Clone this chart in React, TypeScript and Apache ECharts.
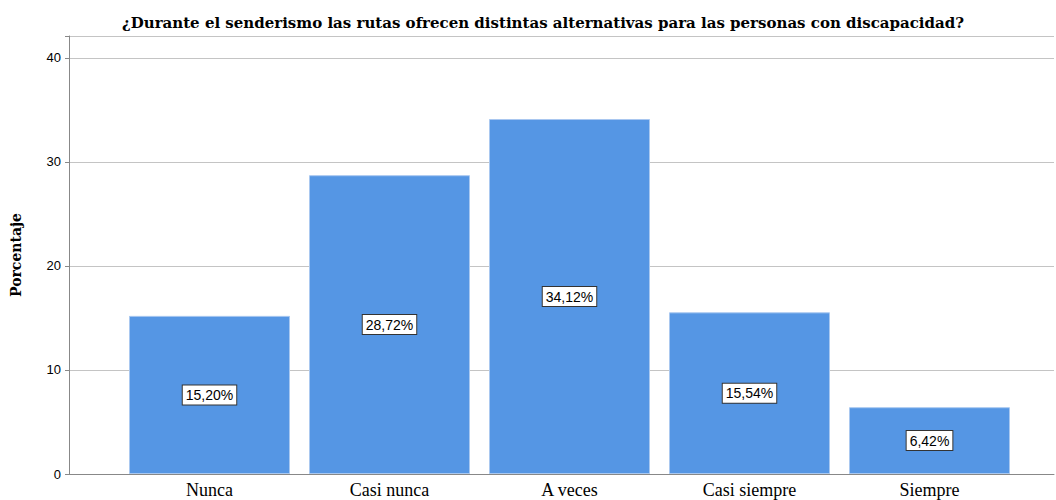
import React, { useEffect, useRef } from "react";
import * as echarts from "echarts";

const categories = ["Nunca", "Casi nunca", "A veces", "Casi siempre", "Siempre"];
const values = [15.2, 28.72, 34.12, 15.54, 6.42];
const yTicks = [0, 10, 20, 30, 40];
const title = "¿Durante el senderismo las rutas ofrecen distintas alternativas para las personas con discapacidad?";
const yName = "Porcentaje";

export default function App() {
  const ref = useRef<HTMLDivElement>(null);
  useEffect(() => {
    if (!ref.current) return;
    const chart = echarts.init(ref.current, null, { renderer: "svg" });
    const yMax = 42.1;
    chart.setOption({
      animation: false,
      backgroundColor: "#ffffff",
      title: {
        text: title,
        left: 538,
        textAlign: "center",
        top: 10,
        textStyle: {
          fontFamily: "DejaVu Serif, Liberation Serif, serif",
          fontWeight: "bold",
          fontSize: 15,
          color: "#000",
        },
      },
      grid: [
        { left: 69, right: 2, top: 36, bottom: 26 },
        { left: 119.5, right: 36.5, top: 36, bottom: 26 },
      ],
      xAxis: [
        {
          gridIndex: 0,
          type: "category",
          data: categories,
          axisLine: { show: true, lineStyle: { color: "#888888", width: 1 } },
          axisTick: { show: false },
          axisLabel: { show: false },
          splitLine: { show: false },
        },
        {
          gridIndex: 1,
          type: "category",
          data: categories,
          axisLine: { show: false },
          axisTick: { show: false },
          axisLabel: {
            show: true,
            margin: 7,
            fontFamily: "Liberation Serif, serif",
            fontSize: 18,
            color: "#000",
          },
          splitLine: { show: false },
        },
      ],
      yAxis: [
        {
          gridIndex: 0,
          type: "value",
          min: 0,
          max: yMax,
          interval: 10,
          name: yName,
          nameLocation: "middle",
          nameGap: 46,
          nameRotate: 90,
          nameTextStyle: {
            fontFamily: "DejaVu Serif, Liberation Serif, serif",
            fontWeight: "bold",
            fontSize: 14,
            color: "#000",
          },
          axisLine: { show: true, lineStyle: { color: "#888888", width: 1 } },
          axisTick: { show: true, length: 4, lineStyle: { color: "#888888" } },
          axisLabel: {
            fontFamily: "Liberation Sans, Arial, sans-serif",
            fontSize: 13,
            color: "#000",
            margin: 8,
            formatter: (v: number) => (yTicks.includes(v) ? String(v) : ""),
          },
          splitLine: { show: true, lineStyle: { color: "#c4c4c4", width: 1 } },
        },
        {
          gridIndex: 1,
          type: "value",
          min: 0,
          max: yMax,
          interval: 10,
          show: false,
          splitLine: { show: false },
        },
      ],
      series: [
        {
          type: "bar",
          xAxisIndex: 1,
          yAxisIndex: 1,
          data: values,
          barWidth: 161,
          itemStyle: {
            color: "#5596e4",
            borderColor: "#a9c8f0",
            borderWidth: 1,
          },
          label: {
            show: true,
            position: "inside",
            formatter: (p: any) => p.value.toFixed(2).replace(".", ",") + "%",
            fontFamily: "Liberation Sans, Arial, sans-serif",
            fontSize: 14,
            color: "#000",
            backgroundColor: "#ffffff",
            borderColor: "#333333",
            borderWidth: 1,
            padding: [3, 3, 2, 3],
          },
        },
      ],
    });
    return () => chart.dispose();
  }, []);
  return (
    <div
      ref={ref}
      style={{ position: "fixed", left: 0, top: 0, width: 1056, height: 500 }}
    />
  );
}
